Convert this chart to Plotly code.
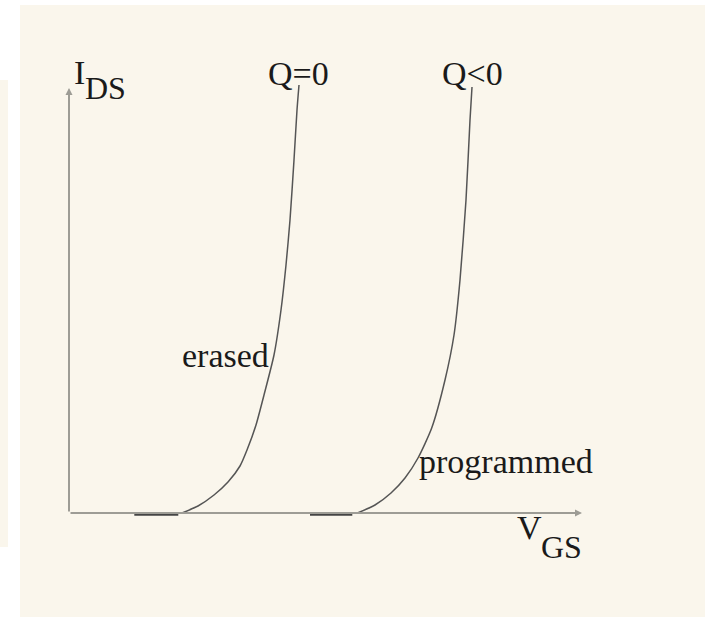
import plotly.graph_objects as go

# ---- data (arbitrary units: V_GS horizontal, I_DS vertical) ----
erased_vgs = [1.13, 1.29, 1.45, 1.59, 1.71, 1.78, 1.87, 1.95, 2.05, 2.12, 2.17, 2.21, 2.25, 2.28, 2.30]
erased_ids = [0.0, 0.07, 0.18, 0.31, 0.47, 0.63, 0.88, 1.18, 1.58, 2.03, 2.48, 2.93, 3.53, 4.03, 4.28]

prog_vgs = [2.885, 3.06, 3.22, 3.36, 3.49, 3.627, 3.76, 3.85, 3.91, 3.97, 4.01, 4.03]
prog_ids = [0.0, 0.08, 0.20, 0.35, 0.55, 0.85, 1.33, 1.78, 2.33, 3.13, 3.93, 4.26]

erased_off_vgs = [0.653, 1.093]
prog_off_vgs = [2.41, 2.833]
off_ids = [-0.015, -0.015]

axis_x_end = 5.13
axis_y_end = 4.25

CREAM = "#FAF6EC"
AXIS = "#9d9c95"
CURVE = "#555555"
TXT = "#1a1a1a"
FONT = "Liberation Serif"
FS = 34

fig = go.Figure()

for xs, ys in [(erased_vgs, erased_ids), (prog_vgs, prog_ids)]:
    fig.add_trace(go.Scatter(x=xs, y=ys, mode="lines",
                             line=dict(color=CURVE, width=1.5, shape="spline", smoothing=0.6),
                             hoverinfo="skip", showlegend=False))
for xs in [erased_off_vgs, prog_off_vgs]:
    fig.add_trace(go.Scatter(x=xs, y=off_ids, mode="lines",
                             line=dict(color="#444444", width=2.5),
                             hoverinfo="skip", showlegend=False))

# axes with arrows
for (tx, ty) in [(axis_x_end, 0), (0, axis_y_end)]:
    fig.add_annotation(x=tx, y=ty, ax=0, ay=0, xref="x", yref="y",
                       axref="x", ayref="y", showarrow=True, text="",
                       arrowhead=2, arrowsize=0.7, arrowwidth=2,
                       arrowcolor=AXIS)

def label(text, x, y, size=FS, anchor="center"):
    fig.add_annotation(x=x, y=y, xref="x", yref="y", text=text,
                       showarrow=False, xanchor=anchor, yanchor="middle",
                       font=dict(family=FONT, size=size, color=TXT))

label("I", 0.03, 4.41, anchor="left")
label("DS", 0.14, 4.25, size=32, anchor="left")
label("Q=0", 2.29, 4.40)
label("Q&lt;0", 4.03, 4.40)
label("erased", 1.56, 1.575)
label("programmed", 4.365, 0.515)
label("V", 4.605, -0.14)
label("GS", 4.92, -0.34, size=32)

fig.update_xaxes(range=[-0.49, 6.36], visible=False, showgrid=False, zeroline=False)
fig.update_yaxes(range=[-1.04, 5.08], visible=False, showgrid=False, zeroline=False)

fig.add_shape(type="rect", xref="paper", yref="paper",
              x0=-20/685, x1=-12/685, y0=70/612, y1=537/612,
              fillcolor=CREAM, line=dict(width=0), layer="below")

fig.update_layout(width=705, height=617,
                  margin=dict(l=20, r=0, t=5, b=0, pad=0),
                  paper_bgcolor="white", plot_bgcolor=CREAM,
                  showlegend=False)

fig.write_html("out.html", config={"displayModeBar": False},
               post_script="document.body.style.margin='0';document.body.style.overflow='hidden';")
